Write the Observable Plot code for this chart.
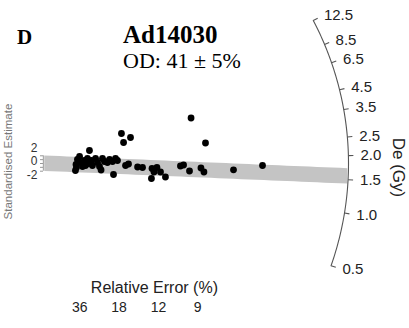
<!DOCTYPE html>
<html>
<head>
<meta charset="utf-8">
<script src="https://cdn.jsdelivr.net/npm/d3@7"></script>
<script src="https://cdn.jsdelivr.net/npm/@observablehq/plot@0.6"></script>
<style>
  html, body { margin: 0; padding: 0; background: #fff; }
  #wrap { position: relative; width: 409px; height: 328px; overflow: hidden; }
  #wrap svg { position: absolute; left: 0; top: 0; }
  .t { position: absolute; font-family: "Liberation Serif", "Times New Roman", serif; color: #000; white-space: nowrap; line-height: 1; }
</style>
</head>
<body>
<div id="wrap">
  <div class="t" style="left:17px; top:27px; font-size:21px; font-weight:bold;">D</div>
  <div class="t" style="left:123px; top:22px; font-size:25px; font-weight:bold;">Ad14030</div>
  <div class="t" style="left:123px; top:50px; font-size:22px;">OD: 41 ± 5%</div>
</div>
<script>
// ---- data ----
// precision (1 / relative error) of each aliquot
const precision = [2.47, 2.51, 2.61, 2.76, 2.83, 2.97, 3.11, 3.32, 3.39, 3.60, 3.67, 3.89, 4.03, 4.17, 4.28, 4.38, 4.52, 4.73, 4.88, 5.09, 5.30, 5.16, 3.46, 5.72, 6.36, 5.87, 6.01, 6.22, 6.86, 7.21, 7.88, 8.23, 8.48, 7.84, 8.83, 9.89, 10.11, 10.53, 11.34, 11.55, 10.64, 11.66, 13.64, 15.69, 8.02, 5.44, 2.54, 3.18];
// standardised estimate of each aliquot
const stdEstimate = [-1.82, -0.26, 1.04, 1.82, 0.26, -0.78, 0.78, 1.30, 0.00, 0.78, -0.52, 1.30, 0.26, -0.78, -1.69, 1.30, 0.52, 0.26, 1.04, 0.52, 1.30, -2.86, 3.38, 7.79, 6.75, 5.45, -0.52, -0.13, -0.91, -1.04, -1.30, -1.04, -2.21, -3.90, -3.51, -0.65, -0.39, -1.95, -1.17, -2.21, 11.82, 5.32, -1.64, -0.52, -2.21, 0.78, -1.04, -0.52];
// radial De axis
const deTicks = [12.5, 8.5, 6.5, 4.5, 3.5, 2.5, 2.0, 1.5, 1.0, 0.5];
const deTickLabels = ["12.5", "8.5", "6.5", "4.5", "3.5", "2.5", "2.0", "1.5", "1.0", "0.5"];
const deReference = 1.82;   // De of the horizontal (standardised 0) direction, Gy
const deCentral = 1.56;     // central De of the grey ±2 band, Gy
// relative error axis (%)
const relErrTicks = [36, 18, 12, 9];
const yTicks = [2, 0, -2];

// ---- geometry / scales ----
const kx = 14.15, ky = 3.85, X0 = 40, Y0 = 163, R = 308;
const theta = de => Math.atan((ky / kx) * (Math.log(de) - Math.log(deReference)));
const arcPt = (th, r) => ({x: r * Math.cos(th) / kx, y: r * Math.sin(th) / ky});

const points = precision.map((p, i) => ({p, s: stdEstimate[i]}));

const thTop = theta(d3.max(deTicks)), thBot = theta(d3.min(deTicks));
const arc = d3.range(0, 101).map(i => arcPt(thBot + (thTop - thBot) * i / 100, R));

const ticks = deTicks.map((de, i) => {
  const th = theta(de);
  const a = arcPt(th, R), b = arcPt(th, R + 5), l = arcPt(th, R + 12);
  return {x1: a.x, y1: a.y, x2: b.x, y2: b.y, lx: l.x, ly: l.y, label: deTickLabels[i]};
});

// band: ±2 around central line, ends on the arc
const mc = Math.log(deCentral) - Math.log(deReference);
function hitArc(a) {
  const A = kx * kx + ky * ky * mc * mc, B = 2 * ky * ky * a * mc, C = ky * ky * a * a - R * R;
  return (-B + Math.sqrt(B * B - 4 * A * C)) / (2 * A);
}
const xr = Math.min(hitArc(2), hitArc(-2));
const band = d3.range(0, 41).map(i => ({x: 0.3 + (xr - 0.3) * i / 40}));

const plot = Plot.plot({
  width: 409,
  height: 328,
  marginTop: 0,
  marginLeft: 43,
  marginRight: 9,
  marginBottom: 30,
  x: {domain: [0, 25], range: [X0, X0 + 25 * kx]},
  y: {domain: [-40, 40], range: [Y0 + 40 * ky, Y0 - 40 * ky]},
  style: {fontFamily: "'Liberation Sans', Arial, sans-serif", background: "transparent", overflow: "visible"},
  marks: [
    Plot.areaY(band, {x: "x", y1: d => mc * d.x - 2, y2: d => mc * d.x + 2, fill: "#c4c4c4"}),
    Plot.line(arc, {x: "x", y: "y", stroke: "#555", strokeWidth: 1.1}),
    Plot.link(ticks, {x1: "x1", y1: "y1", x2: "x2", y2: "y2", stroke: "#555", strokeWidth: 1.1}),
    Plot.text(ticks, {x: "lx", y: "ly", text: "label", textAnchor: "start", fontSize: 15, fill: "#222"}),
    Plot.dot(points, {x: "p", y: "s", r: 3.4, fill: "#000", stroke: null}),
    // x axis: relative error
    Plot.axisX(relErrTicks.map(r => 100 / r), {anchor: "bottom", tickSize: 0, tickPadding: 4, fontSize: 14, fill: "#222", label: null, tickFormat: d => String(Math.round(100 / d))}),
    Plot.text(["Relative Error (%)"], {frameAnchor: "bottom", x: [8.05], dy: -6, lineAnchor: "bottom", fontSize: 16, fill: "#222"}),
    // y axis: standardised estimate
    Plot.ruleX([0.2], {y1: -2, y2: 2, stroke: "#999"}),
    Plot.axisY([-2, -1, 0, 1, 2], {anchor: "left", tickSize: 3, stroke: "#999", tickFormat: () => "", label: null}),
    Plot.text(yTicks, {frameAnchor: "left", y: d => d * 1.75 + 0.5, text: d => String(d), textAnchor: "end", dx: -6, fontSize: 12, fill: "#333"}),
    Plot.text(["Standardised Estimate"], {frameAnchor: "left", y: [0.5], dx: -35, rotate: -90, textAnchor: "middle", fontSize: 11.5, fill: "#777"}),
    Plot.text(["De (Gy)"], {frameAnchor: "right", y: [-1.04], dx: -2, rotate: 90, textAnchor: "middle", fontSize: 17, fill: "#222"})
  ]
});
document.getElementById("wrap").prepend(plot);
</script>
</body>
</html>
